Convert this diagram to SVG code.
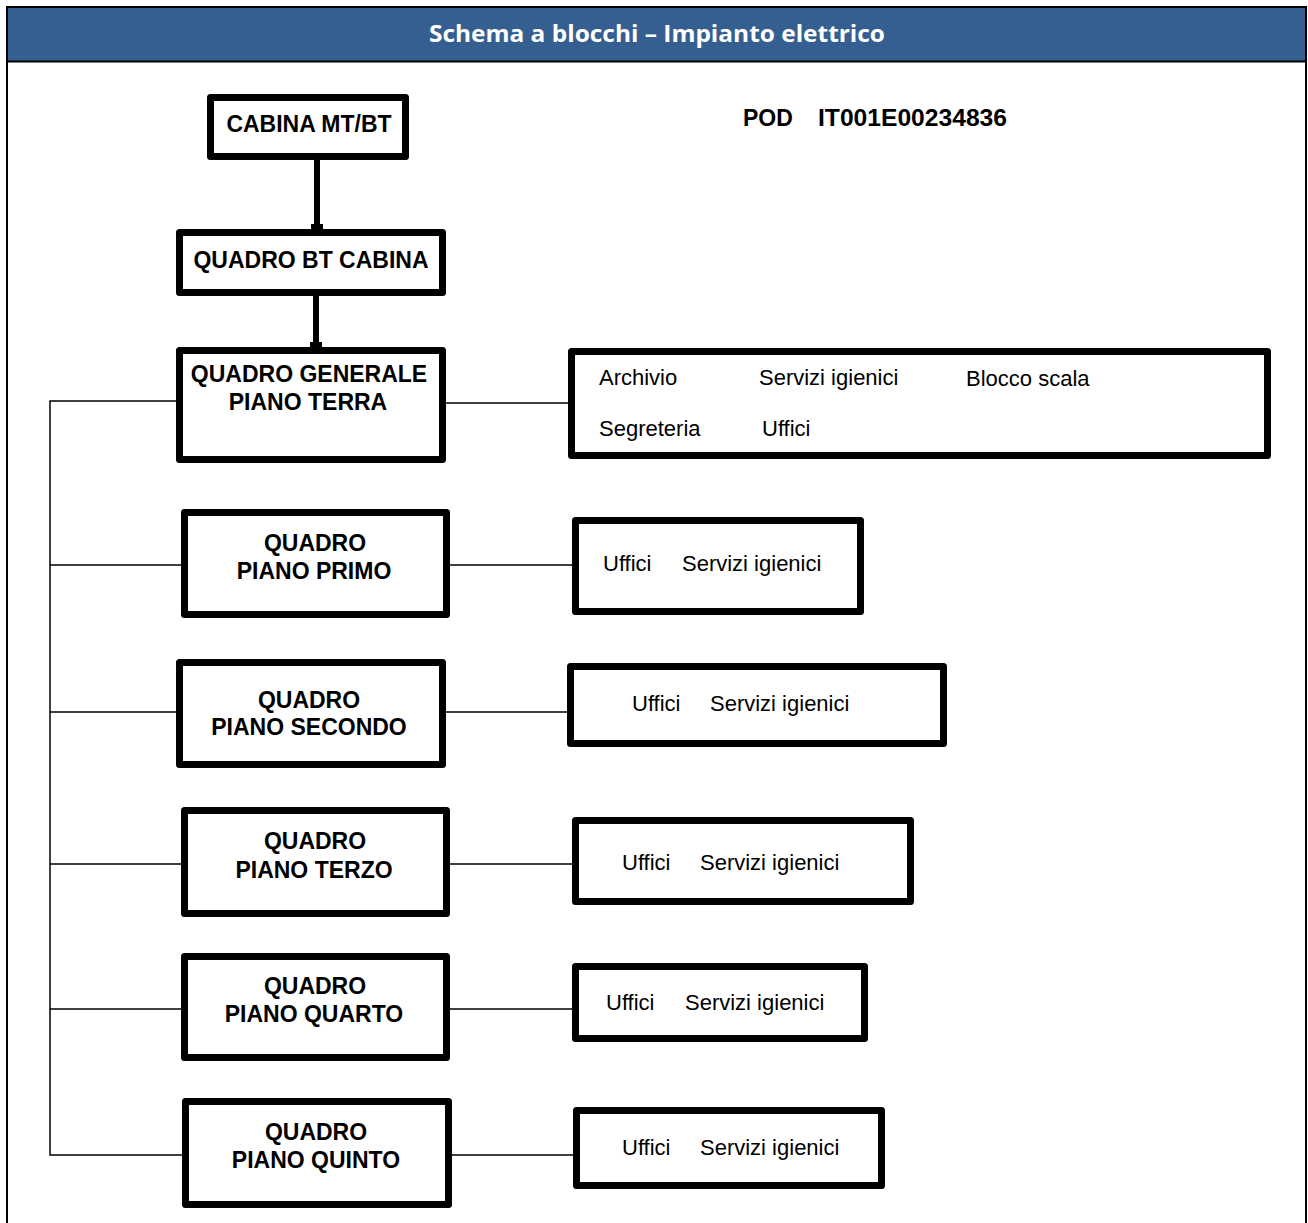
<svg xmlns="http://www.w3.org/2000/svg" width="1308" height="1223" viewBox="0 0 1308 1223">
<style>
.box{fill:#fff;stroke:#000;stroke-width:7;stroke-linejoin:round}
.t{font-family:"Liberation Sans",Arial,sans-serif;font-weight:bold;font-size:23px;fill:#000;text-anchor:middle}
.e{font-family:"Liberation Sans",Arial,sans-serif;font-size:22px;fill:#000}
.thin{stroke:#000;stroke-width:1.5;fill:none}
.thick{stroke:#000;stroke-width:6;fill:none}
</style>
<rect x="0" y="0" width="1308" height="1223" fill="#fff"/>
<rect x="7" y="7" width="1299" height="1220" fill="#fff" stroke="#000" stroke-width="2"/>
<rect x="8" y="8" width="1297" height="53" fill="#365F91"/>
<line x1="7" y1="61.5" x2="1306" y2="61.5" stroke="#000" stroke-width="2"/>
<text x="657" y="42" font-family="'Open Sans','Liberation Sans',sans-serif" font-weight="bold" font-size="24" fill="#fff" text-anchor="middle" textLength="456" lengthAdjust="spacingAndGlyphs">Schema a blocchi – Impianto elettrico</text>
<text x="743" y="126" font-family="'Liberation Sans',Arial,sans-serif" font-weight="bold" font-size="23" fill="#000">POD</text>
<text x="818" y="126" font-family="'Liberation Sans',Arial,sans-serif" font-weight="bold" font-size="23" fill="#000" textLength="189" lengthAdjust="spacingAndGlyphs">IT001E00234836</text>

<g id="connectors">
<line class="thick" x1="317" y1="160" x2="317" y2="226"/>
<rect x="311" y="224" width="12" height="6" fill="#000"/>
<line class="thick" x1="316" y1="296" x2="316" y2="344"/>
<rect x="310" y="342" width="12" height="6" fill="#000"/>
<polyline class="thin" points="176,401 50,401 50,1155 182,1155"/>
<line class="thin" x1="50" y1="565" x2="181" y2="565"/>
<line class="thin" x1="50" y1="712" x2="176" y2="712"/>
<line class="thin" x1="50" y1="864" x2="181" y2="864"/>
<line class="thin" x1="50" y1="1009" x2="181" y2="1009"/>
<line class="thin" x1="446" y1="403" x2="568" y2="403"/>
<line class="thin" x1="450" y1="565" x2="572" y2="565"/>
<line class="thin" x1="446" y1="712" x2="567" y2="712"/>
<line class="thin" x1="450" y1="864" x2="572" y2="864"/>
<line class="thin" x1="450" y1="1009" x2="572" y2="1009"/>
<line class="thin" x1="452" y1="1155" x2="573" y2="1155"/>
</g>

<g id="cabina">
<rect class="box" x="210.5" y="97.5" width="195" height="59"/>
<text class="t" x="309" y="132">CABINA MT/BT</text>
</g>
<g id="quadro-bt">
<rect class="box" x="179.5" y="232.5" width="263" height="60"/>
<text class="t" x="311" y="268">QUADRO BT CABINA</text>
</g>
<g id="quadro-terra">
<rect class="box" x="179.5" y="350.5" width="263" height="109"/>
<text class="t" x="309" y="382">QUADRO GENERALE</text>
<text class="t" x="308" y="410">PIANO TERRA</text>
</g>
<g id="utenze-terra">
<rect class="box" x="571.5" y="351.5" width="696" height="104"/>
<text class="e" x="599" y="385">Archivio</text>
<text class="e" x="759" y="385">Servizi igienici</text>
<text class="e" x="966" y="386">Blocco scala</text>
<text class="e" x="599" y="436">Segreteria</text>
<text class="e" x="762" y="436">Uffici</text>
</g>
<g id="quadro-primo">
<rect class="box" x="184.5" y="512.5" width="262" height="102"/>
<text class="t" x="315" y="551">QUADRO</text>
<text class="t" x="314" y="579">PIANO PRIMO</text>
</g>
<g id="utenze-primo">
<rect class="box" x="575.5" y="520.5" width="285" height="91"/>
<text class="e" x="603" y="571">Uffici</text>
<text class="e" x="682" y="571">Servizi igienici</text>
</g>
<g id="quadro-secondo">
<rect class="box" x="179.5" y="662.5" width="263" height="102"/>
<text class="t" x="309" y="708">QUADRO</text>
<text class="t" x="309" y="735">PIANO SECONDO</text>
</g>
<g id="utenze-secondo">
<rect class="box" x="570.5" y="666.5" width="373" height="77"/>
<text class="e" x="632" y="711">Uffici</text>
<text class="e" x="710" y="711">Servizi igienici</text>
</g>
<g id="quadro-terzo">
<rect class="box" x="184.5" y="810.5" width="262" height="103"/>
<text class="t" x="315" y="849">QUADRO</text>
<text class="t" x="314" y="878">PIANO TERZO</text>
</g>
<g id="utenze-terzo">
<rect class="box" x="575.5" y="820.5" width="335" height="81"/>
<text class="e" x="622" y="870">Uffici</text>
<text class="e" x="700" y="870">Servizi igienici</text>
</g>
<g id="quadro-quarto">
<rect class="box" x="184.5" y="956.5" width="262" height="101"/>
<text class="t" x="315" y="994">QUADRO</text>
<text class="t" x="314" y="1022">PIANO QUARTO</text>
</g>
<g id="utenze-quarto">
<rect class="box" x="575.5" y="966.5" width="289" height="72"/>
<text class="e" x="606" y="1010">Uffici</text>
<text class="e" x="685" y="1010">Servizi igienici</text>
</g>
<g id="quadro-quinto">
<rect class="box" x="185.5" y="1101.5" width="263" height="103"/>
<text class="t" x="316" y="1140">QUADRO</text>
<text class="t" x="316" y="1168">PIANO QUINTO</text>
</g>
<g id="utenze-quinto">
<rect class="box" x="576.5" y="1110.5" width="305" height="75"/>
<text class="e" x="622" y="1155">Uffici</text>
<text class="e" x="700" y="1155">Servizi igienici</text>
</g>
</svg>
